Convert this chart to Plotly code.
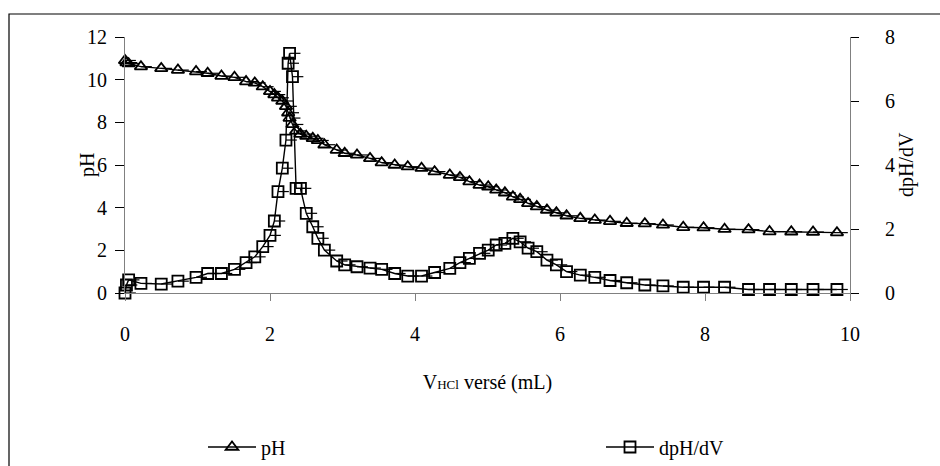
import plotly.graph_objects as go

# Volume of HCl added (mL), shared by both series
volume_ml = [0.00, 0.02, 0.05, 0.22, 0.50, 0.73, 0.98, 1.14, 1.33, 1.51,
             1.67, 1.79, 1.90, 2.00, 2.06, 2.11, 2.17, 2.22, 2.25, 2.27,
             2.31, 2.36, 2.42, 2.50, 2.59, 2.66, 2.75, 2.92, 3.03, 3.20,
             3.38, 3.54, 3.72, 3.90, 4.09, 4.27, 4.48, 4.62, 4.75, 4.89,
             5.01, 5.12, 5.24, 5.35, 5.45, 5.56, 5.68, 5.82, 5.95, 6.09,
             6.28, 6.48, 6.69, 6.92, 7.17, 7.42, 7.70, 7.98, 8.27, 8.60,
             8.89, 9.19, 9.49, 9.82]

# Measured pH
ph_values = [10.90, 10.80, 10.75, 10.61, 10.53, 10.45, 10.38, 10.30, 10.17, 10.11,
             9.91, 9.85, 9.67, 9.45, 9.30, 9.15, 9.00, 8.75, 8.45, 8.20,
             7.90, 7.60, 7.45, 7.35, 7.25, 7.15, 6.95, 6.70, 6.55, 6.47,
             6.31, 6.11, 6.00, 5.92, 5.85, 5.69, 5.53, 5.42, 5.22, 5.06,
             4.98, 4.83, 4.70, 4.51, 4.39, 4.20, 4.05, 3.89, 3.76, 3.62,
             3.50, 3.42, 3.36, 3.27, 3.25, 3.19, 3.08, 3.06, 2.99, 2.97,
             2.88, 2.87, 2.86, 2.83]

# Derivative dpH/dV
dphdv_values = [0.00, 0.25, 0.41, 0.30, 0.28, 0.37, 0.49, 0.61, 0.61, 0.74,
                0.95, 1.13, 1.45, 1.80, 2.25, 3.17, 3.90, 4.78, 7.18, 7.49,
                6.76, 3.27, 3.27, 2.49, 2.07, 1.71, 1.34, 1.00, 0.88, 0.82,
                0.78, 0.74, 0.61, 0.53, 0.53, 0.64, 0.77, 0.95, 1.08, 1.24,
                1.34, 1.50, 1.55, 1.71, 1.60, 1.40, 1.29, 1.03, 0.88, 0.67,
                0.56, 0.49, 0.39, 0.32, 0.25, 0.22, 0.18, 0.18, 0.18, 0.11,
                0.11, 0.11, 0.11, 0.11]

x_ticks = [0, 2, 4, 6, 8, 10]
ph_ticks = [0, 2, 4, 6, 8, 10, 12]
deriv_ticks = [0, 2, 4, 6, 8]

FONT = "Liberation Serif"
AXIS_GREY = "#808080"
TICKFONT = dict(family=FONT, size=20, color="black")

err = dict(type="constant", value=0.15, symmetric=False, valueminus=0,
           width=0, thickness=1.2, color="black")

fig = go.Figure()
fig.add_trace(go.Scatter(
    x=volume_ml, y=ph_values, name="pH", mode="lines+markers",
    line=dict(color="black", width=1.4),
    marker=dict(symbol="triangle-up-open", size=11, color="black",
                line=dict(width=1.8, color="black")),
    error_x=err, cliponaxis=False, legend="legend",
))
fig.add_trace(go.Scatter(
    x=volume_ml, y=dphdv_values, name="dpH/dV", mode="lines+markers",
    yaxis="y2",
    line=dict(color="black", width=1.4),
    marker=dict(symbol="square-open", size=11, color="black",
                line=dict(width=1.8, color="black")),
    error_x=err, cliponaxis=False, legend="legend2",
))

legend_common = dict(y=(293 - 447) / 256, yanchor="middle", xanchor="left",
                     bgcolor="rgba(0,0,0,0)", borderwidth=0,
                     font=dict(family=FONT, size=20, color="black"),
                     itemwidth=48)

fig.update_layout(
    width=940, height=466,
    margin=dict(l=125, r=90, t=37, b=173, autoexpand=False),
    paper_bgcolor="white", plot_bgcolor="white",
    font=dict(family=FONT, size=20, color="black"),
    showlegend=True,
    legend=dict(x=(203 - 125) / 725, **legend_common),
    legend2=dict(x=(601 - 125) / 725, **legend_common),
    xaxis=dict(range=[0, 10], tickvals=x_ticks, showgrid=False, zeroline=False,
               showline=True, linecolor=AXIS_GREY, linewidth=1.2,
               ticks="outside", ticklen=7, tickcolor=AXIS_GREY,
               ticklabelstandoff=16, tickfont=TICKFONT,
               title=dict(text="V<span style=\"font-size:13px\">HCl</span> versé (mL)",
                          standoff=30, font=dict(family=FONT, size=20))),
    yaxis=dict(range=[0, 12], tickvals=ph_ticks, showgrid=False, zeroline=False,
               showline=True, linecolor=AXIS_GREY, linewidth=1.2,
               ticks="outside", ticklen=9, tickcolor="black",
               ticklabelstandoff=4, tickfont=TICKFONT),
    yaxis2=dict(range=[0, 8], tickvals=deriv_ticks, overlaying="y", side="right",
                showgrid=False, zeroline=False,
                showline=True, linecolor=AXIS_GREY, linewidth=1.2,
                ticks="outside", ticklen=8, tickcolor="black",
                ticklabelstandoff=22, tickfont=TICKFONT),
)

# Axis titles placed beside the single-digit tick labels
fig.add_annotation(text="pH", xref="paper", yref="paper",
                   x=(87 - 125) / 725, y=(293 - 165) / 256,
                   xanchor="center", yanchor="middle", textangle=-90,
                   showarrow=False, font=dict(family=FONT, size=20))
fig.add_annotation(text="dpH/dV", xref="paper", yref="paper",
                   x=(906 - 125) / 725, y=(293 - 165) / 256,
                   xanchor="center", yanchor="middle", textangle=-90,
                   showarrow=False, font=dict(family=FONT, size=20))

# Chart-area frame
fig.add_shape(type="rect", xref="paper", yref="paper",
              x0=(9 - 125) / 725, x1=(960 - 125) / 725,
              y0=(293 - 480) / 256, y1=(293 - 14) / 256,
              line=dict(color="black", width=1.2), layer="below")

fig.write_html("out.html")
